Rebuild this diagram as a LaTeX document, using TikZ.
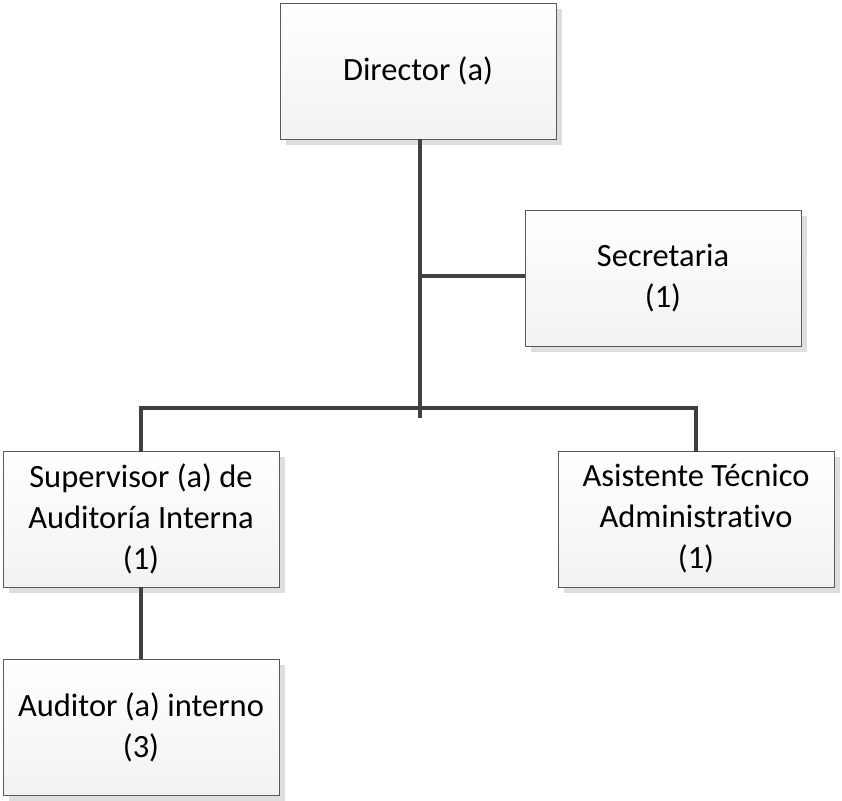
\documentclass[tikz,border=0pt]{standalone}
\usepackage{fontspec}
\setmainfont{Carlito}[Ligatures={NoCommon}]
\usetikzlibrary{shadows}
\begin{document}
\begin{tikzpicture}[x=1pt,y=1pt,
  orgbox/.style={draw=black!65, line width=0.9pt, top color=white, bottom color=black!5,
    minimum width=276pt, minimum height=136pt, align=center,
    font=\fontsize{32.5}{41}\selectfont, text=black, inner sep=0pt,
    drop shadow={shadow xshift=6pt, shadow yshift=-6pt, fill=black!13, opacity=1}},
  link/.style={draw=black!75, line width=3.6pt}]
\useasboundingbox (0,0) rectangle (842,800);
\node[orgbox] (dir) at (418,729) {Director (a)};
\node[orgbox] (sec) at (663,521.5) {Secretaria\\(1)};
\node[orgbox] (sup) at (141,281) {Supervisor (a) de\\Auditoría Interna\\(1)};
\node[orgbox] (asi) at (696,281) {Asistente Técnico\\Administrativo\\(1)};
\node[orgbox] (aud) at (141,73) {Auditor (a) interno\\(3)};
\coordinate (top) at (420,661);
\coordinate (bot) at (420,382);
\coordinate (bar) at (420,392);
\coordinate (junc) at (420,524);
\draw[link] (top) -- (bot);
\draw[link] (junc) -- (junc -| sec.west);
\draw[link,line cap=rect] (sup.north) -- (sup.north |- bar) -- (asi.north |- bar) -- (asi.north);
\draw[link] (sup.south) -- (aud.north);
\end{tikzpicture}
\end{document}
